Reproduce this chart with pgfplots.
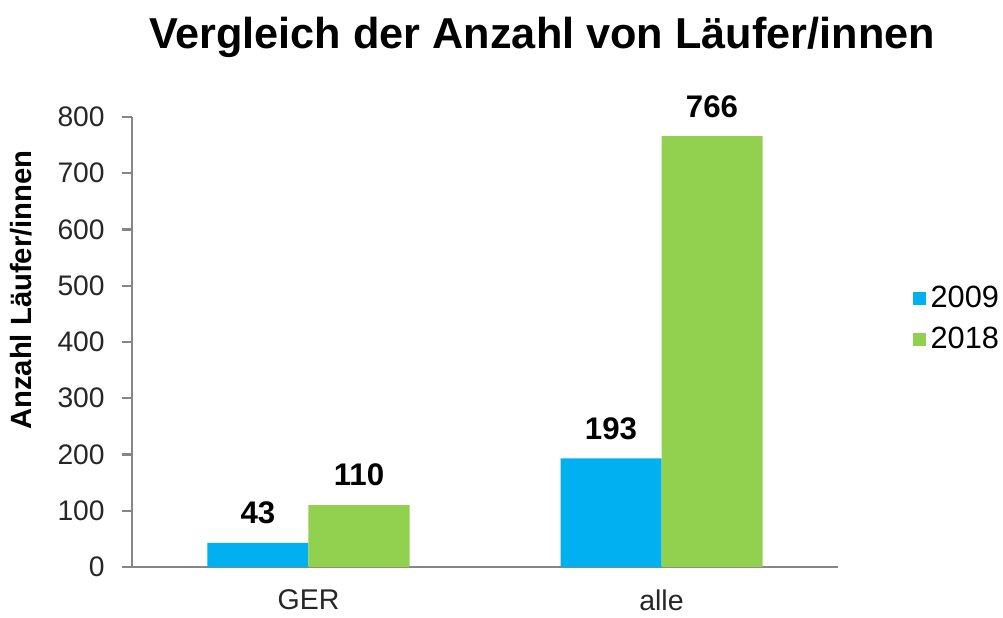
\documentclass[border=0pt]{standalone}
\usepackage{pgfplots}
\pgfplotsset{compat=1.18}
\usepackage{fontspec}
\setmainfont{Liberation Sans}
\definecolor{barBlue}{HTML}{00B0F0}
\definecolor{barGreen}{HTML}{92D050}
\definecolor{axGray}{HTML}{868686}

\begin{document}
\begin{tikzpicture}
\begin{axis}[
  at={(0,0)}, anchor=south west,
  width=282.4pt, height=180pt, scale only axis,
  xmin=-0.5, xmax=1.5, ymin=0, ymax=800,
  axis x line=bottom, axis y line=left,
  axis line style={axGray, line width=0.9pt, -},
  ybar=0pt, bar width=40.4pt,
  xtick={0,1}, xticklabels={GER, alle},
  major x tick style={draw=none},
  extra x ticks={-0.5,0.5,1.5}, extra x tick labels={},
  extra x tick style={major tick style={draw=axGray, line width=0.9pt}, tick align=outside, major tick length=4pt},
  ytick={0,100,...,800},
  y tick style={draw=axGray, line width=0.9pt},
  tick align=outside, major tick length=4pt,
  /pgf/number format/assume math mode=true,
  yticklabel style={font=\fontsize{11.3}{13}\selectfont, text=black!85, xshift=-3.4pt},
  xticklabel style={font=\fontsize{11.4}{13}\selectfont, text=black!85, yshift=-1.5pt},
  nodes near coords,
  every node near coord/.append style={font=\bfseries\fontsize{12.5}{14}\selectfont, anchor=south, yshift=4pt},
  legend style={at={(1.105,0.551)}, anchor=west, draw=none, fill=none,
    font=\fontsize{12.3}{14}\selectfont, row sep=2.5pt, inner sep=0pt},
  legend cell align=left,
  legend image code/.code={\fill[#1] (0pt,-2.6pt) rectangle (5.2pt,2.6pt);},
]
\addplot[fill=barBlue, draw=none] coordinates {(0,43) (1,193)};
\addlegendentry{2009}
\addplot[fill=barGreen, draw=none] coordinates {(0,110) (1,766)};
\addlegendentry{2018}
\end{axis}
\node[font=\bfseries\fontsize{17.3}{20}\selectfont, anchor=base] at (164pt,207.4pt) {Vergleich der Anzahl von Läufer/innen};
\node[font=\bfseries\fontsize{11.7}{13}\selectfont, rotate=90] at (-44.5pt,110.8pt) {Anzahl Läufer/innen};
\pgfresetboundingbox
\path[use as bounding box] (-52.8pt,-20.2pt) rectangle (348.4pt,226.8pt);
\end{tikzpicture}
\end{document}
